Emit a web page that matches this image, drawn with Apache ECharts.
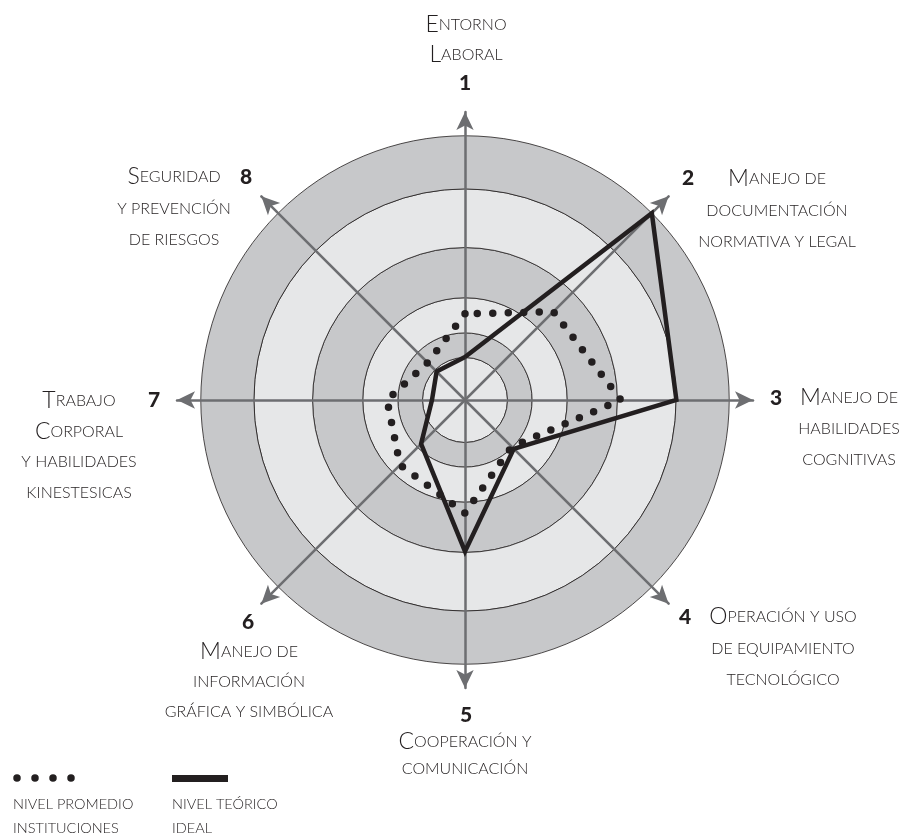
<!DOCTYPE html>
<html><head><meta charset="utf-8">
<script src="https://cdn.jsdelivr.net/npm/echarts@6/dist/echarts.min.js"></script>
<style>html,body{margin:0;padding:0;background:#fff}#c{width:905px;height:836px}</style>
</head><body><div id="c"></div>
<script>
// ---- data ----
const axisNumbers = ['1', '2', '3', '4', '5', '6', '7', '8'];
const axisNames = [
  'Entorno\nLaboral',
  'Manejo de\ndocumentación\nnormativa y legal',
  'Manejo de\nhabilidades\ncognitivas',
  'Operación y uso\nde equipamiento\ntecnológico',
  'Cooperación y\ncomunicación',
  'Manejo de\ninformación\ngráfica y simbólica',
  'Trabajo\nCorporal\ny habilidades\nkinestesicas',
  'Seguridad\ny prevención\nde riesgos'
];
const ringLevels = [16.1, 25.4, 38.7, 57.7, 79.9, 100];
const promedio = [32.6, 47.3, 59.0, 25.0, 42.8, 34.8, 29.5, 20.0];
const ideal = [16.3, 100, 80.0, 26.1, 57.3, 23.5, 12.5, 15.2];
const axisMax = 109;
const legendNames = ['Nivel promedio\ninstituciones', 'Nivel teórico\nideal'];

// ---- layout / style ----
const CX = 465, CY = 400, R = 288;
const INK = '#231f20', TXT = '#231f20', SPOKE = '#6d6e71';
const LIGHT = '#e6e7e8', DARK = '#c7c8ca';
const FONT = 'Lato, "Open Sans", sans-serif';
// label placement: number pos, text centre x, first line y, line step
const labelLayout = [
  {nx: 465, ny: 83,  tx: 466, ty: 25,  step: 30},
  {nx: 688, ny: 178, tx: 777, ty: 179, step: 31.5},
  {nx: 776, ny: 398, tx: 849, ty: 398, step: 31},
  {nx: 685, ny: 617, tx: 783, ty: 617, step: 31.5},
  {nx: 466, ny: 715, tx: 465, ty: 742, step: 27},
  {nx: 248, ny: 622, tx: 249, ty: 652, step: 30},
  {nx: 154, ny: 400, tx: 79,  ty: 401, step: 30.5},
  {nx: 246, ny: 177, tx: 174, ty: 177, step: 31.5}
];

// radar indicators run counter-clockwise; reorder so the numbering runs clockwise
const order = [0, 7, 6, 5, 4, 3, 2, 1];
const pick = arr => order.map(i => arr[i]);

const rich = {
  big: {fontSize: 23, fontFamily: FONT, fontWeight: 300, color: TXT},
  sm: {fontSize: 16, fontFamily: FONT, fontWeight: 300, color: TXT}
};
function smallCaps(line) {
  const first = line.charAt(0);
  if (first !== first.toLowerCase()) {
    return '{big|' + first + '}{sm|' + line.slice(1).toUpperCase() + '}';
  }
  return '{sm|' + line.toUpperCase() + '}';
}

const graphics = [];
axisNames.forEach((name, i) => {
  const L = labelLayout[i];
  graphics.push({type: 'text', x: L.nx, y: L.ny, z: 10, style: {
    text: axisNumbers[i], font: '900 21px ' + FONT, fill: INK,
    textAlign: 'center', textVerticalAlign: 'middle'}});
  name.split('\n').forEach((line, k) => {
    graphics.push({type: 'text', x: L.tx, y: L.ty + k * L.step, z: 10, style: {
      text: smallCaps(line), rich: rich, fill: TXT,
      textAlign: 'center', textVerticalAlign: 'middle'}});
  });
});
// legend
graphics.push({type: 'line', z: 10, shape: {x1: 17, y1: 778, x2: 72, y2: 778},
  style: {stroke: INK, lineWidth: 7.5, lineDash: [0, 18], lineCap: 'round'}});
graphics.push({type: 'rect', z: 10, shape: {x: 172, y: 775, width: 56, height: 7},
  style: {fill: INK}});
legendNames.forEach((nm, j) => {
  nm.split('\n').forEach((line, k) => {
    graphics.push({type: 'text', x: j === 0 ? 13 : 172, y: 804 + k * 24, z: 10, style: {
      text: line.toUpperCase(), font: '300 14.5px ' + FONT, fill: TXT,
      textAlign: 'left', textVerticalAlign: 'middle'}});
  });
});

const ringSeries = ringLevels.map((lv, i) => ({
  type: 'bar', coordinateSystem: 'polar', stack: 'rings', silent: true, z: 1,
  barWidth: '100%',
  data: [lv - (i ? ringLevels[i - 1] : 0)],
  itemStyle: {color: i % 2 ? DARK : LIGHT, borderColor: INK, borderWidth: 0.8}
}));

const chart = echarts.init(document.getElementById('c'), null, {renderer: 'canvas'});
chart.setOption({
  animation: false,
  backgroundColor: '#ffffff',
  polar: {center: [CX, CY], radius: R},
  angleAxis: {type: 'category', data: ['r'], show: false, startAngle: 90},
  radiusAxis: {type: 'value', min: 0, max: axisMax, show: false},
  radar: {
    center: [CX, CY], radius: R, startAngle: 90, splitNumber: 1, shape: 'circle', z: 5,
    indicator: pick(axisNumbers).map(n => ({name: n, min: 0, max: axisMax})),
    axisName: {show: false},
    splitLine: {show: false}, splitArea: {show: false},
    axisTick: {show: false}, axisLabel: {show: false},
    axisLine: {symbol: ['none', 'arrow'], symbolSize: [13, 18],
      lineStyle: {color: SPOKE, width: 2.5}}
  },
  series: ringSeries.concat([{
    type: 'radar', z: 6, silent: true, symbol: 'none',
    data: [
      {name: legendNames[0], value: pick(promedio),
        lineStyle: {color: INK, width: 7.5, type: [0, 15.5], cap: 'round'}},
      {name: legendNames[1], value: pick(ideal),
        lineStyle: {color: INK, width: 4.5, type: 'solid', join: 'miter'}}
    ]
  }]),
  graphic: graphics
});
</script></body></html>
